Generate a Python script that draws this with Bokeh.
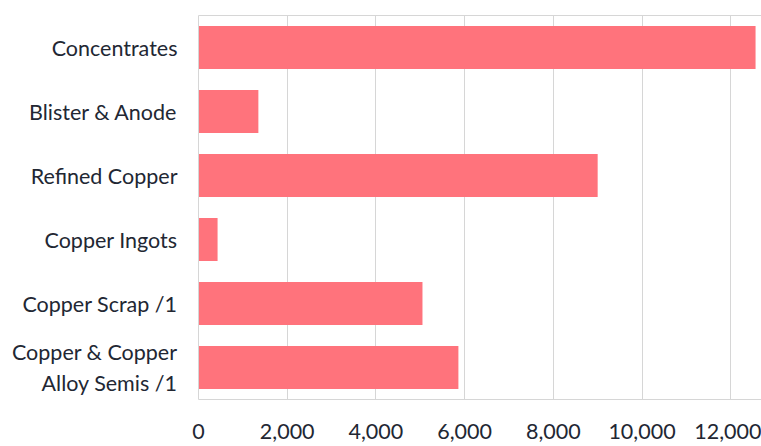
from bokeh.plotting import figure
from bokeh.models import FactorRange, Range1d, LinearAxis, NumeralTickFormatter, FixedTicker
from bokeh.embed import file_html
from bokeh.resources import INLINE

categories = ["Concentrates", "Blister & Anode", "Refined Copper", "Copper Ingots",
              "Copper Scrap /1", "Copper & Copper\nAlloy Semis /1"]
values = [12560, 1350, 9000, 430, 5050, 5860]
ticks = [0, 2000, 4000, 6000, 8000, 10000, 12000]

FONT = "Lato"
TEXT = "#222733"
GRID = "#d6d6d6"

p = figure(width=761, height=446, output_backend="svg", toolbar_location=None,
           y_range=FactorRange(factors=categories[::-1], range_padding=0),
           x_range=Range1d(0, 12694),
           min_border_left=198, min_border_right=0, min_border_top=15, min_border_bottom=47)

p.hbar(y=categories, right=values, height=0.67, color="#FF737C", line_color=None)

p.outline_line_color = None
p.background_fill_color = "white"
p.border_fill_color = "white"

p.ygrid.grid_line_color = None
p.xgrid.grid_line_color = GRID
p.xgrid.grid_line_width = 1
p.xaxis.ticker = ticks
p.xaxis.formatter = NumeralTickFormatter(format="0,0")

for ax in p.xaxis + p.yaxis:
    ax.major_tick_line_color = None
    ax.minor_tick_line_color = None
    ax.axis_line_color = GRID
    ax.major_label_text_font = FONT
    ax.major_label_text_font_size = "21.5px"
    ax.major_label_text_color = TEXT

p.xaxis.major_label_standoff = 18
p.yaxis.major_label_standoff = 15

top = LinearAxis(ticker=FixedTicker(ticks=[]),
                 major_tick_line_color=None, minor_tick_line_color=None,
                 axis_line_color=GRID, major_label_standoff=0)
p.add_layout(top, "above")

open("out.html", "w").write(file_html(p, INLINE))
